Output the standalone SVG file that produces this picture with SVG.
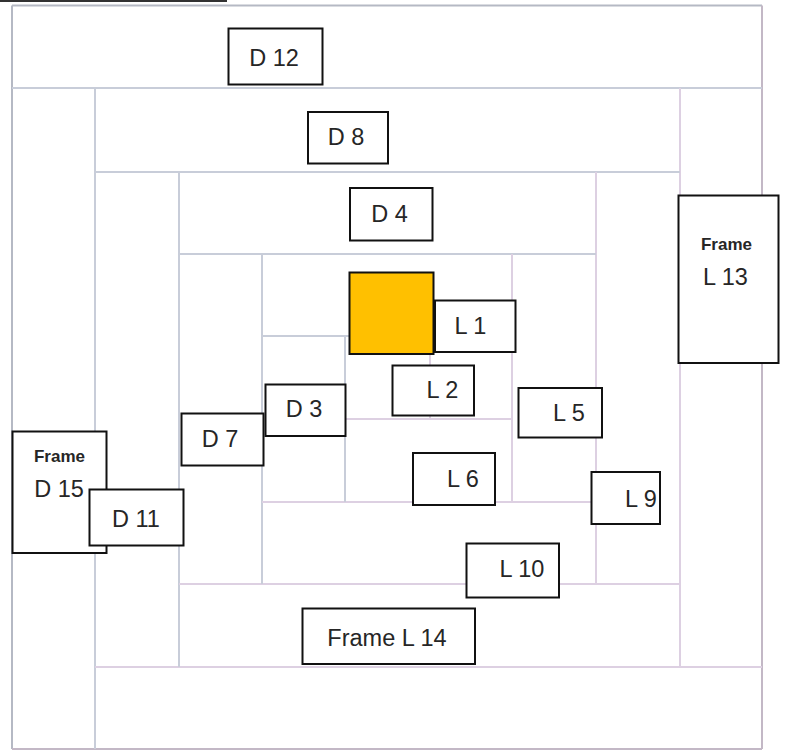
<svg xmlns="http://www.w3.org/2000/svg" width="785" height="751" viewBox="0 0 785 751">
<style>
.g{stroke:#c8cdd9;stroke-width:2;fill:none}
.p{stroke:#ddd0e2;stroke-width:2;fill:none}
.o{stroke:#b5b9c4;stroke-width:2;fill:none}
.op{stroke:#c3b8c6;stroke-width:2;fill:none}
.box{fill:#fff;stroke:#111;stroke-width:2}
.t{font-family:"Liberation Sans",Arial,sans-serif;font-size:23.5px;fill:#262626;text-anchor:middle}
.f{font-family:"Liberation Sans",Arial,sans-serif;font-size:17px;font-weight:bold;fill:#262626;text-anchor:middle}
</style>
<rect width="785" height="751" fill="#fff"/>
<g id="connectors">
<line x1="0" y1="1" x2="227" y2="1" stroke="#333" stroke-width="2"/>
<line class="o" x1="12" y1="5.5" x2="762" y2="5.5"/>
<line class="o" x1="12" y1="5.5" x2="12" y2="749"/>
<line class="op" x1="762" y1="5.5" x2="762" y2="749"/>
<line class="op" x1="12" y1="749" x2="762" y2="749"/>
<line class="g" x1="12" y1="88" x2="762" y2="88"/>
<line class="g" x1="95" y1="88" x2="95" y2="749"/>
<line class="p" x1="680" y1="88" x2="680" y2="667"/>
<line class="p" x1="95" y1="667" x2="762" y2="667"/>
<line class="g" x1="95" y1="172" x2="680" y2="172"/>
<line class="g" x1="179" y1="172" x2="179" y2="667"/>
<line class="p" x1="596" y1="172" x2="596" y2="584"/>
<line class="p" x1="179" y1="584" x2="680" y2="584"/>
<line class="g" x1="179" y1="254" x2="596" y2="254"/>
<line class="g" x1="262" y1="254" x2="262" y2="584"/>
<line class="p" x1="512" y1="254" x2="512" y2="502"/>
<line class="p" x1="262" y1="502" x2="596" y2="502"/>
<line class="g" x1="262" y1="336" x2="430" y2="336"/>
<line class="g" x1="345" y1="336" x2="345" y2="502"/>
<line class="p" x1="430" y1="354" x2="430" y2="419"/>
<line class="p" x1="345" y1="419" x2="512" y2="419"/>
</g>
<g id="center"><rect x="349.5" y="272.5" width="84" height="81.5" fill="#ffc000" stroke="#111" stroke-width="2"/></g>
<g id="D12"><rect class="box" x="228.5" y="28.5" width="94" height="56"/><text class="t" x="274" y="66">D 12</text></g>
<g id="D8"><rect class="box" x="308" y="112" width="80" height="51.5"/><text class="t" x="346" y="145">D 8</text></g>
<g id="D4"><rect class="box" x="350" y="188" width="82.5" height="52.5"/><text class="t" x="389.5" y="222">D 4</text></g>
<g id="L13"><rect class="box" x="678.5" y="195.5" width="100" height="167.5"/><text class="f" x="726.5" y="250">Frame</text><text class="t" x="725.5" y="285">L 13</text></g>
<g id="L1"><rect class="box" x="435" y="300.5" width="80.5" height="51.5"/><text class="t" x="470.5" y="334">L 1</text></g>
<g id="L2"><rect class="box" x="392.5" y="365.5" width="81.5" height="50"/><text class="t" x="442.5" y="398">L 2</text></g>
<g id="L5"><rect class="box" x="518.5" y="388" width="83.5" height="49.5"/><text class="t" x="569" y="421">L 5</text></g>
<g id="L6"><rect class="box" x="413" y="453" width="82" height="52"/><text class="t" x="463" y="487">L 6</text></g>
<g id="L9"><rect class="box" x="591.5" y="472" width="68.5" height="52"/><text class="t" x="641" y="507">L 9</text></g>
<g id="L10"><rect class="box" x="466.5" y="543.5" width="92.5" height="54"/><text class="t" x="522" y="577">L 10</text></g>
<g id="L14"><rect class="box" x="302.5" y="608.5" width="172.5" height="55.5"/><text class="t" x="387" y="646">Frame L 14</text></g>
<g id="D3"><rect class="box" x="265.5" y="384.5" width="80" height="51.5"/><text class="t" x="304" y="417">D 3</text></g>
<g id="D7"><rect class="box" x="181.5" y="413.5" width="82" height="52"/><text class="t" x="220" y="447">D 7</text></g>
<g id="D15"><rect class="box" x="12.5" y="431.5" width="94" height="121.5"/><text class="f" x="59.5" y="462">Frame</text><text class="t" x="59" y="497">D 15</text></g>
<g id="D11"><rect class="box" x="89.5" y="489.5" width="94" height="56"/><text class="t" x="136" y="527">D 11</text></g>
</svg>
